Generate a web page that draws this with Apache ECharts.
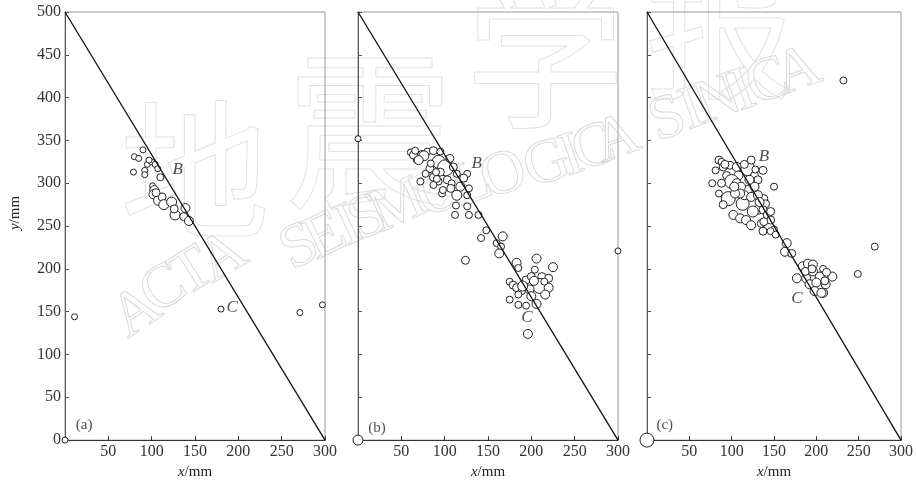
<!DOCTYPE html>
<html>
<head>
<meta charset="utf-8">
<script src="https://cdn.jsdelivr.net/npm/echarts@6/dist/echarts.min.js"></script>
<style>
  html, body { margin: 0; padding: 0; background: #fff; }
  #chart { width: 916px; height: 485px; }
</style>
</head>
<body>
<div id="chart"></div>
<script>
// x/mm, y/mm, circle diameter
const pointsA = [
  [0, 0, 6], [11, 144, 6], [180, 153, 6], [271, 149, 6], [297, 158, 6],
  [90, 339, 6], [80, 331, 6], [85, 329, 6], [79, 313, 6], [92, 315, 6], [92, 310, 6],
  [95, 322, 6], [100, 325, 6], [104, 322, 6], [107, 317, 6], [110, 307, 7], [101, 297, 6],
  [103, 292, 9], [102, 287, 9], [108, 280, 10], [112, 284, 8], [114, 275, 10], [123, 278, 10],
  [127, 263, 10], [126, 270, 8], [137, 261, 8], [139, 271, 9], [143, 256, 9], [97, 327, 6],
  [105, 289, 8]
]
const pointsB = [
  [0, 0, 10], [0, 352, 6], [300, 221, 6], [124, 210, 8], [196, 124, 9],
  [61, 336, 7], [64, 333, 8], [68, 327, 7], [74, 333, 9], [80, 337, 7], [66, 338, 7],
  [93, 325, 13], [101, 318, 16], [87, 338, 8], [95, 337, 7], [106, 329, 8], [110, 319, 8],
  [72, 302, 7], [83, 317, 8], [78, 311, 7], [87, 307, 8], [93, 302, 7], [103, 304, 8],
  [108, 300, 7], [114, 311, 7], [126, 311, 7], [122, 306, 8], [118, 296, 9], [128, 294, 7],
  [126, 286, 7], [114, 286, 10], [107, 294, 8], [97, 288, 7], [87, 298, 7], [95, 313, 8],
  [113, 274, 7], [126, 273, 7], [139, 263, 7], [128, 263, 7], [112, 263, 7], [84, 323, 7],
  [90, 313, 7], [76, 332, 10], [70, 327, 9], [91, 305, 7], [98, 292, 7],
  [148, 245, 7], [142, 236, 7], [167, 238, 9], [160, 230, 7], [165, 226, 7], [163, 218, 9],
  [183, 207, 9], [185, 201, 7], [206, 212, 9], [204, 199, 7], [225, 202, 9], [175, 185, 7],
  [179, 181, 8], [183, 178, 8], [189, 174, 7], [185, 170, 7], [194, 187, 8], [200, 191, 8],
  [212, 191, 8], [220, 189, 8], [210, 180, 15], [198, 176, 9], [220, 178, 9], [216, 170, 9],
  [175, 164, 7], [185, 158, 7], [194, 157, 7], [206, 159, 9], [190, 180, 10], [203, 186, 9],
  [200, 168, 9], [215, 185, 7]
]
const pointsC = [
  [0, 0, 14], [232, 420, 7], [269, 226, 7], [249, 194, 7],
  [85, 327, 8], [88, 325, 7], [81, 315, 7], [90, 319, 8], [98, 321, 8], [94, 309, 8],
  [119, 317, 14], [106, 319, 9], [108, 309, 9], [100, 302, 14], [127, 309, 8], [131, 304, 8],
  [137, 315, 8], [123, 327, 8], [77, 300, 7], [85, 288, 7], [96, 282, 14], [113, 276, 13],
  [90, 275, 8], [119, 292, 9], [115, 286, 9], [123, 284, 9], [131, 269, 9], [125, 267, 11],
  [102, 263, 9], [110, 259, 9], [117, 257, 9], [123, 251, 9], [138, 282, 8], [140, 276, 8],
  [137, 269, 8], [142, 263, 8], [146, 267, 8], [135, 253, 8], [137, 244, 8], [150, 246, 7],
  [150, 296, 7], [146, 257, 8], [138, 255, 8], [106, 300, 9], [111, 296, 9], [110, 288, 9],
  [127, 296, 9], [121, 304, 9], [104, 288, 9], [131, 286, 9], [133, 278, 9], [92, 322, 8],
  [115, 322, 8], [88, 300, 8], [103, 296, 9], [128, 316, 7],
  [146, 244, 7], [152, 240, 7], [165, 230, 9], [163, 220, 9], [171, 218, 8],
  [184, 203, 9], [190, 206, 9], [196, 205, 9], [208, 200, 7], [177, 189, 9], [188, 189, 9],
  [196, 197, 9], [204, 191, 9], [219, 191, 9], [192, 182, 9], [200, 184, 9], [211, 182, 9],
  [210, 186, 8], [198, 174, 9], [208, 172, 9], [187, 197, 8], [206, 172, 9], [195, 200, 8],
  [212, 196, 8]
]
// line y = 500 - 5x/3
const lineX = [0, 300]
const lineY = [500, 0]
const xTicks = [0, 50, 100, 150, 200, 250, 300]
const yTicks = [0, 50, 100, 150, 200, 250, 300, 350, 400, 450, 500]
// annotations [x, y, text]
const notesA = [[130, 316, 'B'], [193, 155, 'C'], [22, 18, '(a)']]
const notesB = [[137, 323, 'B'], [195, 143, 'C'], [22, 14, '(b)']]
const notesC = [[138, 331, 'B'], [177, 165, 'C'], [21, 17, '(c)']]

// watermark (decoration only)
const wmLetters = [
  ['A', 137, 313, 34], ['C', 164, 290, 33], ['T', 193, 273, 32], ['A', 223, 258, 31],
  ['S', 300, 248, 27], ['E', 326, 237, 26], ['I', 349, 227, 25], ['S', 368, 219, 25],
  ['M', 398, 207, 24], ['O', 440, 194, 22], ['L', 472, 185, 21], ['O', 504, 176, 20],
  ['G', 547, 165, 19], ['I', 572, 157, 19], ['C', 594, 149, 19], ['A', 617, 140, 20],
  ['S', 668, 120, 20], ['I', 692, 111, 20], ['N', 718, 101, 20], ['I', 744, 92, 20],
  ['C', 768, 83, 20], ['A', 798, 72, 20]
]
const wmHan = [['地', 195, 170, 150], ['震', 370, 130, 170], ['学', 545, 55, 160], ['报', 720, 30, 150]]

const SERIF = '"Liberation Serif", "DejaVu Serif", serif'
const grids = [65, 358, 647].map((left) => ({
  left, top: 12, width: 260, height: 431,
  show: true, borderColor: '#9a9a9a', borderWidth: 1, backgroundColor: 'transparent'
}))

function xAxis(i) {
  return {
    gridIndex: i, type: 'value', min: 0, max: 300, interval: 50,
    name: '{i|x}/mm', nameLocation: 'middle', nameGap: 23,
    nameTextStyle: { fontFamily: SERIF, fontSize: 15, color: '#222',
      rich: { i: { fontFamily: SERIF, fontSize: 15, fontStyle: 'italic', color: '#222' } } },
    axisLine: { show: true, lineStyle: { color: '#333', width: 1 } },
    axisTick: { show: true, inside: true, length: 4, lineStyle: { color: '#333' } },
    axisLabel: { fontFamily: SERIF, fontSize: 16, color: '#333', margin: 4,
      formatter: (v) => (v === 0 ? '' : String(v)) },
    splitLine: { show: false }
  }
}
function yAxis(i) {
  return {
    gridIndex: i, type: 'value', min: 0, max: 500, interval: 50,
    axisLine: { show: true, lineStyle: { color: '#555', width: 1 } },
    axisTick: { show: true, inside: true, length: 4, lineStyle: { color: '#555' } },
    axisLabel: { show: i === 0, fontFamily: SERIF, fontSize: 16, color: '#333', margin: 4 },
    splitLine: { show: false }
  }
}
function dots(data, i) {
  return {
    type: 'scatter', xAxisIndex: i, yAxisIndex: i, z: 3,
    data: data.map((p) => [p[0], p[1], p[2]]),
    symbol: 'circle', symbolSize: (v) => v[2],
    itemStyle: { color: '#fff', borderColor: '#222', borderWidth: 1, opacity: 1 },
    emphasis: { disabled: true }, silent: true
  }
}
function diag(i) {
  return {
    type: 'line', xAxisIndex: i, yAxisIndex: i, z: 4,
    data: lineX.map((x, k) => [x, lineY[k]]),
    showSymbol: false, symbol: 'none',
    lineStyle: { color: '#111', width: 1.3 }, silent: true
  }
}
function notes(data, i) {
  return {
    type: 'scatter', xAxisIndex: i, yAxisIndex: i, z: 5,
    data: data.map((n) => ({
      value: [n[0], n[1]], name: n[2],
      label: { fontStyle: n[2].startsWith('(') ? 'normal' : 'italic', fontSize: n[2].startsWith('(') ? 15 : 17 }
    })),
    symbolSize: 0, silent: true,
    label: {
      show: true, position: 'inside', formatter: (p) => p.name,
      fontFamily: SERIF, fontSize: 16, color: '#222'
    },
    labelLayout: { hideOverlap: false }
  }
}

const graphic = [
  ...wmHan.map(([t, x, y, fs]) => ({
    type: 'text', x, y, z: -10, silent: true,
    style: { text: t, fontFamily: '"Noto Sans CJK SC"', fontSize: fs,
      fill: 'rgba(0,0,0,0)', stroke: '#e2e2e2', lineWidth: 1, align: 'center', verticalAlign: 'middle' }
  })),
  ...wmLetters.map(([t, x, y, rot]) => ({
    type: 'text', x, y, rotation: rot * Math.PI / 180, z: -10, silent: true,
    style: { text: t, fontFamily: SERIF, fontSize: 62,
      fill: 'rgba(0,0,0,0)', stroke: '#dadada', lineWidth: 1, align: 'center', verticalAlign: 'middle' }
  })),
  {
    type: 'text', x: 15, y: 213, rotation: Math.PI / 2, silent: true,
    style: { text: '{i|y}/mm', fontFamily: SERIF, fontSize: 15, fill: '#222',
      align: 'center', verticalAlign: 'middle',
      rich: { i: { fontFamily: SERIF, fontSize: 15, fontStyle: 'italic', fill: '#222' } } }
  }
]

const chart = echarts.init(document.getElementById('chart'), null, { renderer: 'canvas' })
chart.setOption({
  animation: false,
  backgroundColor: '#fff',
  grid: grids,
  xAxis: [0, 1, 2].map(xAxis),
  yAxis: [0, 1, 2].map(yAxis),
  graphic,
  series: [
    dots(pointsA, 0), dots(pointsB, 1), dots(pointsC, 2),
    diag(0), diag(1), diag(2),
    notes(notesA, 0), notes(notesB, 1), notes(notesC, 2)
  ]
})
</script>
</body>
</html>
